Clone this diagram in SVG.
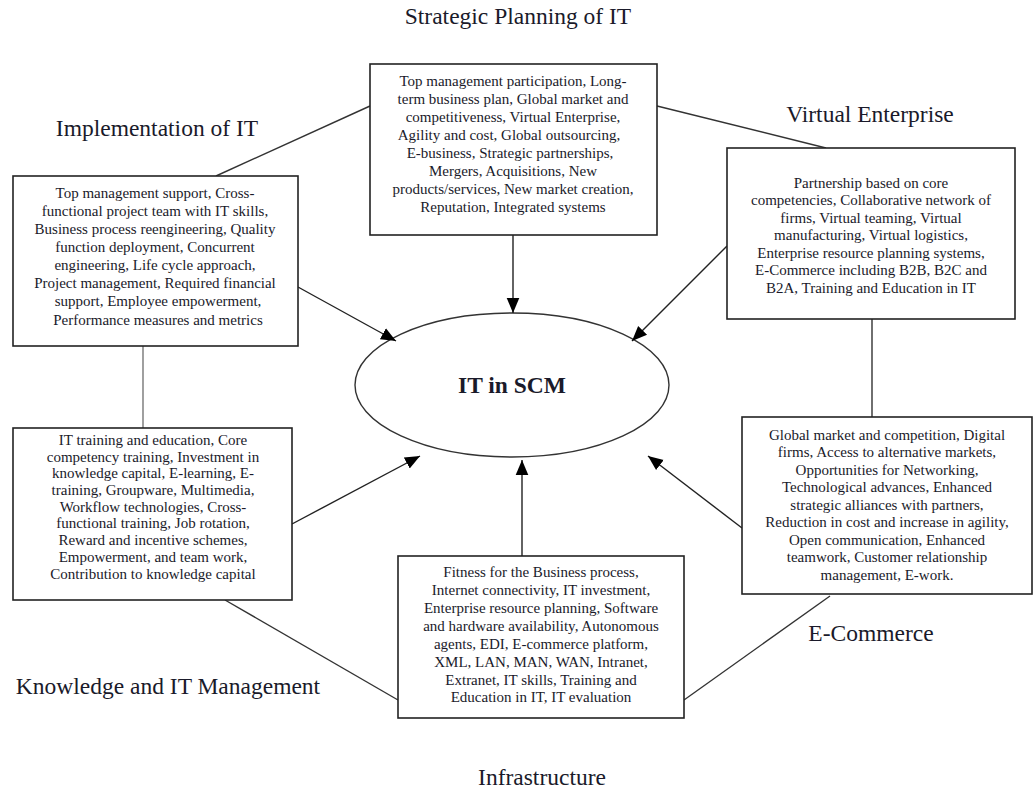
<svg xmlns="http://www.w3.org/2000/svg" width="1035" height="788" viewBox="0 0 1035 788">
<defs>
<marker id="arrb" viewBox="0 0 10 10" refX="10" refY="5" markerWidth="15" markerHeight="15" markerUnits="userSpaceOnUse" orient="auto">
<path d="M0,0.8 L10,5 L0,9.2 z" fill="#000"/>
</marker>
</defs>
<style>
.box{fill:#fff;stroke:#222;stroke-width:1.6}
.t{font-family:"Liberation Serif","Times New Roman",serif;font-size:15px;fill:#1a1a2a;text-anchor:middle}
.lbl{font-family:"Liberation Serif","Times New Roman",serif;font-size:23.5px;fill:#1a1a2a;text-anchor:middle}
.ln{stroke:#333;stroke-width:1.4;fill:none}
.ar{stroke:#222;stroke-width:1.4;fill:none}
</style>
<rect width="1035" height="788" fill="#fff"/>

<g id="center">
<ellipse cx="512" cy="385" rx="157" ry="72" fill="#fff" stroke="#333" stroke-width="1.4"/>
<text x="512" y="393" font-family="Liberation Serif,'Times New Roman',serif" font-size="23.5" font-weight="bold" fill="#1a1a2a" text-anchor="middle">IT in SCM</text>
</g>

<g id="connectors">
<line class="ln" x1="370" y1="106" x2="216" y2="176"/>
<line class="ln" x1="657" y1="106" x2="826" y2="148"/>
<line x1="143" y1="346" x2="143" y2="428" stroke="#888" stroke-width="1.6"/>
<line class="ln" x1="872" y1="319" x2="872" y2="417"/>
<line class="ln" x1="225" y1="600" x2="398" y2="700"/>
<line class="ln" x1="830" y1="596" x2="684" y2="700"/>
<line class="ar" x1="513" y1="235" x2="513" y2="313" marker-end="url(#arrb)"/>
<line class="ar" x1="298" y1="287" x2="396" y2="341" marker-end="url(#arrb)"/>
<line class="ar" x1="727" y1="246" x2="632" y2="341" marker-end="url(#arrb)"/>
<line class="ar" x1="292" y1="524" x2="420" y2="456" marker-end="url(#arrb)"/>
<line class="ar" x1="742" y1="528" x2="648" y2="456" marker-end="url(#arrb)"/>
<line class="ar" x1="522" y1="556" x2="522" y2="460" marker-end="url(#arrb)"/>
</g>

<g id="strategic">
<text class="lbl" x="518" y="24">Strategic Planning of IT</text>
<rect class="box" x="370" y="64" width="287" height="171"/>
<text class="t" x="513" y="86">Top management participation, Long-</text>
<text class="t" x="513" y="104">term business plan, Global market and</text>
<text class="t" x="513" y="122">competitiveness, Virtual Enterprise,</text>
<text class="t" x="509" y="140">Agility and cost, Global outsourcing,</text>
<text class="t" x="510" y="158">E-business, Strategic partnerships,</text>
<text class="t" x="513" y="176">Mergers, Acquisitions, New</text>
<text class="t" x="513" y="194">products/services, New market creation,</text>
<text class="t" x="513" y="212">Reputation, Integrated systems</text>
</g>

<g id="implementation">
<text class="lbl" x="157" y="136">Implementation of IT</text>
<rect class="box" x="13" y="176" width="285" height="170"/>
<text class="t" x="155" y="198">Top management support, Cross-</text>
<text class="t" x="155" y="216">functional project team with IT skills,</text>
<text class="t" x="155" y="234">Business process reengineering, Quality</text>
<text class="t" x="155" y="252">function deployment, Concurrent</text>
<text class="t" x="155" y="270">engineering, Life cycle approach,</text>
<text class="t" x="155" y="288">Project management, Required financial</text>
<text class="t" x="158" y="306">support, Employee empowerment,</text>
<text class="t" x="158" y="325">Performance measures and metrics</text>
</g>

<g id="virtual">
<text class="lbl" x="870" y="122">Virtual Enterprise</text>
<rect class="box" x="727" y="148" width="288" height="171"/>
<text class="t" x="871" y="188">Partnership based on core</text>
<text class="t" x="871" y="205">competencies, Collaborative network of</text>
<text class="t" x="871" y="223">firms, Virtual teaming, Virtual</text>
<text class="t" x="871" y="240">manufacturing, Virtual logistics,</text>
<text class="t" x="871" y="258">Enterprise resource planning systems,</text>
<text class="t" x="871" y="275">E-Commerce including B2B, B2C and</text>
<text class="t" x="871" y="293">B2A, Training and Education in IT</text>
</g>

<g id="knowledge">
<text class="lbl" x="168" y="694">Knowledge and IT Management</text>
<rect class="box" x="13" y="428" width="279" height="172"/>
<text class="t" x="153" y="445">IT training and education, Core</text>
<text class="t" x="153" y="462">competency training, Investment in</text>
<text class="t" x="153" y="478">knowledge capital, E-learning, E-</text>
<text class="t" x="153" y="495">training, Groupware, Multimedia,</text>
<text class="t" x="153" y="512">Workflow technologies, Cross-</text>
<text class="t" x="153" y="528">functional training, Job rotation,</text>
<text class="t" x="153" y="545">Reward and incentive schemes,</text>
<text class="t" x="153" y="562">Empowerment, and team work,</text>
<text class="t" x="153" y="579">Contribution to knowledge capital</text>
</g>

<g id="ecommerce">
<text class="lbl" x="871" y="641">E-Commerce</text>
<rect class="box" x="742" y="417" width="290" height="177"/>
<text class="t" x="887" y="440">Global market and competition, Digital</text>
<text class="t" x="887" y="457">firms, Access to alternative markets,</text>
<text class="t" x="887" y="475">Opportunities for Networking,</text>
<text class="t" x="887" y="492">Technological advances, Enhanced</text>
<text class="t" x="887" y="510">strategic alliances with partners,</text>
<text class="t" x="887" y="527">Reduction in cost and increase in agility,</text>
<text class="t" x="887" y="545">Open communication, Enhanced</text>
<text class="t" x="887" y="562">teamwork, Customer relationship</text>
<text class="t" x="887" y="580">management, E-work.</text>
</g>

<g id="infrastructure">
<text class="lbl" x="542" y="785">Infrastructure</text>
<rect class="box" x="398" y="556" width="286" height="162"/>
<text class="t" x="541" y="577">Fitness for the Business process,</text>
<text class="t" x="541" y="595">Internet connectivity, IT investment,</text>
<text class="t" x="541" y="613">Enterprise resource planning, Software</text>
<text class="t" x="541" y="631">and hardware availability, Autonomous</text>
<text class="t" x="541" y="649">agents, EDI, E-commerce platform,</text>
<text class="t" x="541" y="667">XML, LAN, MAN, WAN, Intranet,</text>
<text class="t" x="541" y="685">Extranet, IT skills, Training and</text>
<text class="t" x="541" y="702">Education in IT, IT evaluation</text>
</g>
</svg>
